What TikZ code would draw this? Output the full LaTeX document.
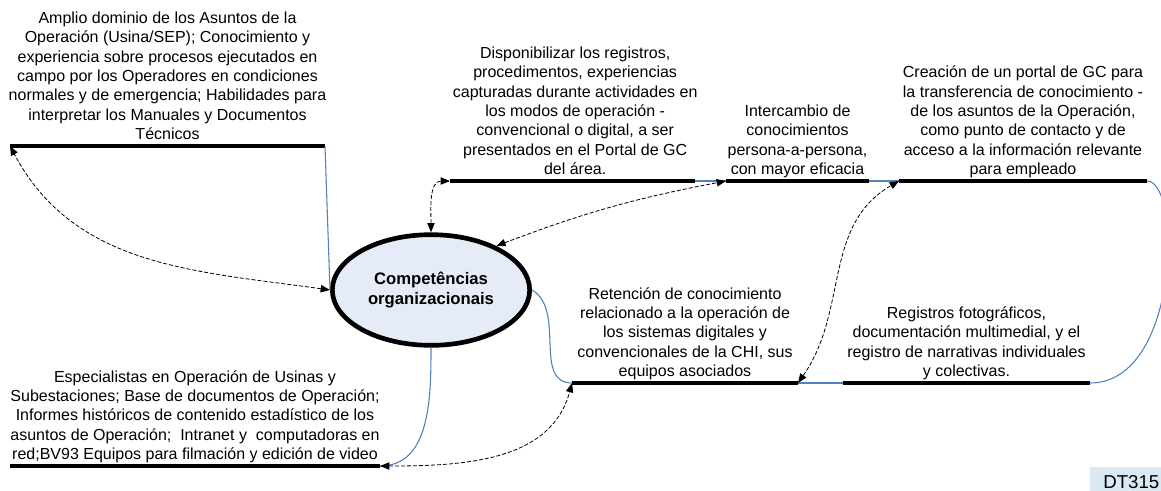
\documentclass[tikz,border=0pt]{standalone}
\usepackage{fontspec}
\setmainfont{Liberation Sans}
\usetikzlibrary{positioning, arrows.meta, shapes.geometric}
\definecolor{wireblue}{RGB}{79,129,189}
\definecolor{ovalfill}{RGB}{230,236,247}
\definecolor{tagfill}{RGB}{219,234,242}

\begin{document}
\begin{tikzpicture}[x=0.75pt, y=0.75pt, >={Triangle[length=7pt, width=5.5pt]},
    bar/.style={line width=3.2pt},
    wire/.style={wireblue, line width=0.8pt},
    link/.style={<->, line width=0.6pt, dash pattern=on 3pt off 1.5pt},
    txt/.style={align=center, inner xsep=1pt, inner ysep=0pt, yshift=-1pt, font=\fontsize{12}{14.5}\selectfont, execute at end node=\strut}]
    \useasboundingbox (0,0) rectangle (1161,-490);

    % Central oval
    \node[draw, ellipse, line width=3.5pt, fill=ovalfill, minimum width=148pt, minimum height=83pt,
          align=center, font=\fontsize{12.5}{14.5}\selectfont\bfseries] (comp) at (431,-290) {Competências\\organizacionais};

    % Bars
    \coordinate (a1) at (10,-146);  \coordinate (a2) at (325,-146);
    \coordinate (b1) at (450,-181); \coordinate (b2) at (695,-181);
    \coordinate (c1) at (726,-181); \coordinate (c2) at (869,-181);
    \coordinate (d1) at (899,-181); \coordinate (d2) at (1147,-181);
    \coordinate (e1) at (843,-383); \coordinate (e2) at (1090,-383);
    \coordinate (f1) at (572,-383); \coordinate (f2) at (798,-383);
    \coordinate (g1) at (10,-466);  \coordinate (g2) at (380,-466);

    \draw[bar] (a1) -- node[txt, above] {Amplio dominio de los Asuntos de la\\Operación (Usina/SEP); Conocimiento y\\experiencia sobre procesos ejecutados en\\campo por los Operadores en condiciones\\normales y de emergencia; Habilidades para\\interpretar los Manuales y Documentos\\Técnicos} (a2);
    \draw[bar] (b1) -- node[txt, above, xshift=2pt] {Disponibilizar los registros,\\procedimentos, experiencias\\capturadas durante actividades en\\los modos de operación -\\convencional o digital, a ser\\presentados en el Portal de GC\\del área.} (b2);
    \draw[bar] (c1) -- node[txt, above] {Intercambio de\\conocimientos\\persona-a-persona,\\con mayor eficacia} (c2);
    \draw[bar] (d1) -- node[txt, above] {Creación de un portal de GC para\\la transferencia de conocimiento -\\de los asuntos de la Operación,\\como punto de contacto y de\\acceso a la información relevante\\para empleado} (d2);
    \draw[bar] (e1) -- node[txt, above] {Registros fotográficos,\\documentación multimedial, y el\\registro de narrativas individuales\\y colectivas.} (e2);
    \draw[bar] (f1) -- node[txt, above] {Retención de conocimiento\\relacionado a la operación de\\los sistemas digitales y\\convencionales de la CHI, sus\\equipos asociados} (f2);
    \draw[bar] (g1) -- node[txt, above] {Especialistas en Operación de Usinas y\\Subestaciones; Base de documentos de Operación;\\Informes históricos de contenido estadístico de los\\asuntos de Operación;~ Intranet y~ computadoras en\\red;BV93 Equipos para filmación y edición de video} (g2);

    % Blue wires
    \draw[wire] (a2) to[out=-88, in=92] (comp.west);
    \draw[wire] (b2) -- (c1);
    \draw[wire] (c2) -- (d1);
    \draw[wire] (d2) .. controls +(35,0) and +(90,0) .. (e2);
    \draw[wire] (e1) -- (f2);
    \draw[wire] (comp.east) to[out=-30, in=180] (f1);
    \draw[wire] (comp.south) to[out=-90, in=0] (g2);

    % Dashed links
    \draw[link] (comp.west) to[out=172, in=-62] (a1);
    \draw[link] (comp.north) to[out=90, in=180] (b1);
    \draw[link] (comp.34) to[bend left=5] (c1);
    \draw[link] (f2) to[out=55, in=-150] (d1);
    \draw[link] (g2) to[out=0, in=-105] (f1);

    % Tag
    \node[fill=tagfill, anchor=north west, inner xsep=9.75pt, inner ysep=6pt,
          font=\fontsize{14}{16}\selectfont] (tag) at (1090,-467) {DT315};
\end{tikzpicture}
\end{document}
